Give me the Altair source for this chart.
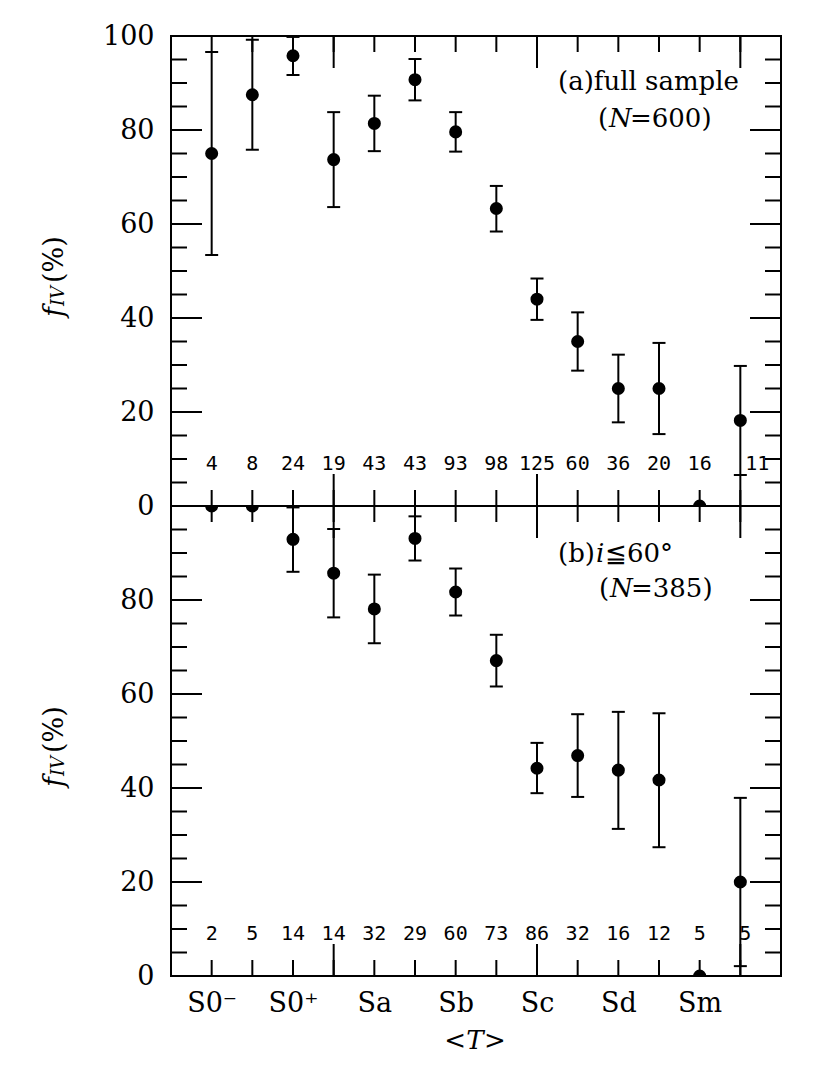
import altair as alt
import pandas as pd

SERIF = "DejaVu Serif"
MONO = "DejaVu Sans Mono"

# morphological type index T
T = [-3, -2, -1, 0, 1, 2, 3, 4, 5, 6, 7, 8, 9, 10]
type_ticks = [-3, -1, 1, 3, 5, 7, 9]
type_labels = ["S0\u207b", "S0\u207a", "Sa", "Sb", "Sc", "Sd", "Sm"]

# (a) full sample
fa = [75.0, 87.5, 95.8, 73.7, 81.4, 90.7, 79.6, 63.3, 44.0, 35.0, 25.0, 25.0, 0.0, 18.2]
fa_lo = [53.4, 75.8, 91.7, 63.6, 75.5, 86.3, 75.4, 58.4, 39.6, 28.8, 17.8, 15.3, None, 6.6]
fa_hi = [96.6, 99.2, 99.8, 83.8, 87.3, 95.1, 83.8, 68.1, 48.4, 41.2, 32.2, 34.7, None, 29.8]
na = [4, 8, 24, 19, 43, 43, 93, 98, 125, 60, 36, 20, 16, 11]

# (b) i <= 60 deg
fb = [100.0, 100.0, 92.9, 85.7, 78.1, 93.1, 81.7, 67.1, 44.2, 46.9, 43.8, 41.7, 0.0, 20.0]
fb_lo = [None, None, 86.0, 76.3, 70.8, 88.4, 76.7, 61.6, 38.9, 38.1, 31.3, 27.4, None, 2.1]
fb_hi = [None, None, 99.7, 95.1, 85.4, 97.8, 86.7, 72.6, 49.6, 55.7, 56.2, 55.9, None, 37.9]
nb = [2, 5, 14, 14, 32, 29, 60, 73, 86, 32, 16, 12, 5, 5]

y_labels_a = [0, 20, 40, 60, 80, 100]
y_labels_b = [0, 20, 40, 60, 80]
x_minor = [-3, -2, -1, 0, 1, 2, 3, 4, 5, 6, 7, 8, 9, 10]
x_major = [0, 5, 10]
y_minor = [5, 10, 15, 20, 25, 30, 35, 40, 45, 50, 55, 60, 65, 70, 75, 80, 85, 90, 95]
y_major = [20, 40, 60, 80]

W, H = 610, 470
xs = alt.Scale(domain=[-4, 11], nice=False, zero=False)
ys = alt.Scale(domain=[0, 100], nice=False, zero=False)

expr = ""
for v, lab in zip(type_ticks, type_labels):
    expr += f"datum.value == {v} ? '{lab}' : "
expr += "''"


def one(s):
    return alt.Chart(pd.DataFrame({"s": [s]}))


def txt(s, x, y, size, italic=False, align="left", baseline="middle", angle=0, font=SERIF):
    kw = dict(font=font, fontSize=size, align=align, baseline=baseline, color="black")
    if italic:
        kw["fontStyle"] = "italic"
    if angle:
        kw["angle"] = angle
    return one(s).mark_text(**kw).encode(text="s:N", x=alt.value(x), y=alt.value(y))


def panel(f, lo, hi, n, ylabels, bottom, letter, last_dx, anchor):
    yaxis = alt.Axis(values=ylabels, title=None, labelFont=SERIF, labelFontSize=27,
                     labelPadding=17, ticks=False, domain=False, grid=False,
                     labelColor="black")
    if bottom:
        xaxis = alt.Axis(values=type_ticks, labelExpr=expr, title=None, labelFont=SERIF,
                         labelFontSize=27, labelPadding=14, ticks=False, domain=False,
                         grid=False, labelColor="black")
    else:
        xaxis = None

    def X(field):
        return alt.X(field, scale=xs, axis=xaxis)

    def Y(field):
        return alt.Y(field, scale=ys, axis=yaxis)

    df = pd.DataFrame({"T": T, "f": f, "lo": lo, "hi": hi, "n": n})
    base = alt.Chart(df)

    pts = base.mark_point(filled=True, size=170, color="black", opacity=1, clip=True).encode(
        x=X("T:Q"), y=Y("f:Q"))
    valid = base.transform_filter("isValid(datum.lo)")
    bars = valid.mark_rule(color="black", strokeWidth=2, clip=True).encode(
        x=X("T:Q"), y=Y("lo:Q"), y2="hi:Q")
    caplo = valid.mark_tick(orient="horizontal", size=13, thickness=2, color="black",
                            opacity=1, clip=True).encode(x=X("T:Q"), y=Y("lo:Q"))
    caphi = valid.mark_tick(orient="horizontal", size=13, thickness=2, color="black",
                            opacity=1, clip=True).encode(x=X("T:Q"), y=Y("hi:Q"))
    counts = base.transform_filter("datum.T < 10").mark_text(
        font=MONO, fontSize=20, baseline="middle", color="black").encode(
        x=X("T:Q"), y=alt.value(428), text="n:N")
    count_last = base.transform_filter("datum.T == 10").mark_text(
        font=MONO, fontSize=20, baseline="middle", color="black", dx=last_dx).encode(
        x=X("T:Q"), y=alt.value(428), text="n:N")

    def rules(vals, length, side):
        c = alt.Chart(pd.DataFrame({"v": vals})).mark_rule(color="black", strokeWidth=2)
        if side == "top":
            return c.encode(x=X("v:Q"), y=alt.value(0), y2=alt.value(length))
        if side == "bottom":
            return c.encode(x=X("v:Q"), y=alt.value(H), y2=alt.value(H - length))
        if side == "left":
            return c.encode(y=Y("v:Q"), x=alt.value(0), x2=alt.value(length))
        return c.encode(y=Y("v:Q"), x=alt.value(W), x2=alt.value(W - length))

    ticks = [
        rules(x_minor, 16, "top"), rules(x_major, 32, "top"),
        rules(x_minor, 16, "bottom"), rules(x_major, 32, "bottom"),
        rules(y_minor, 16, "left"), rules(y_major, 31, "left"),
        rules(y_minor, 16, "right"), rules(y_major, 31, "right"),
    ]

    ytitle = [
        txt("f", -108, 281, 27, italic=True, baseline="alphabetic", angle=270),
        txt("IV", -107, 270, 18, italic=True, baseline="alphabetic", angle=270),
        txt("(%)", -108, 247, 27, baseline="alphabetic", angle=270),
    ]

    if letter == "a":
        notes = [
            txt("(a)full sample", 387, 46, 26),
            txt("(", 427, 83, 26),
            txt("N", 438, 83, 26, italic=True),
            txt("=600)", 459, 83, 26),
        ]
    else:
        notes = [
            txt("(b)", 387, 48, 26),
            txt("i", 425, 48, 26, italic=True),
            txt("\u226660\u00b0", 434, 48, 26),
            txt("(", 428, 83, 26),
            txt("N", 439, 83, 26, italic=True),
            txt("=385)", 460, 83, 26),
        ]

    extra = []
    if bottom:
        extra = [
            txt("<", 295, 535, 26, align="right"),
            txt("T", 304, 535, 26, italic=True, align="center"),
            txt(">", 313, 535, 26, align="left"),
        ]
    if anchor:
        extra.append(one("a").mark_rule(strokeOpacity=0, opacity=0).encode(
            x=alt.value(-162), y=alt.value(-27), y2=alt.value(0)))

    return alt.layer(pts, bars, caplo, caphi, counts, count_last, *ticks, *ytitle,
                     *notes, *extra).properties(width=W, height=H)


top = panel(fa, fa_lo, fa_hi, na, y_labels_a, False, "a", 17, True)
bot = panel(fb, fb_lo, fb_hi, nb, y_labels_b, True, "b", 5, False)

chart = alt.vconcat(top, bot, spacing=0, bounds="flush").properties(
    padding={"left": 0, "top": 0, "right": 5, "bottom": 5},
    background="white",
).configure_view(stroke="black", strokeWidth=2)

chart.save("out.html", embed_options={"renderer": "svg", "actions": False})
